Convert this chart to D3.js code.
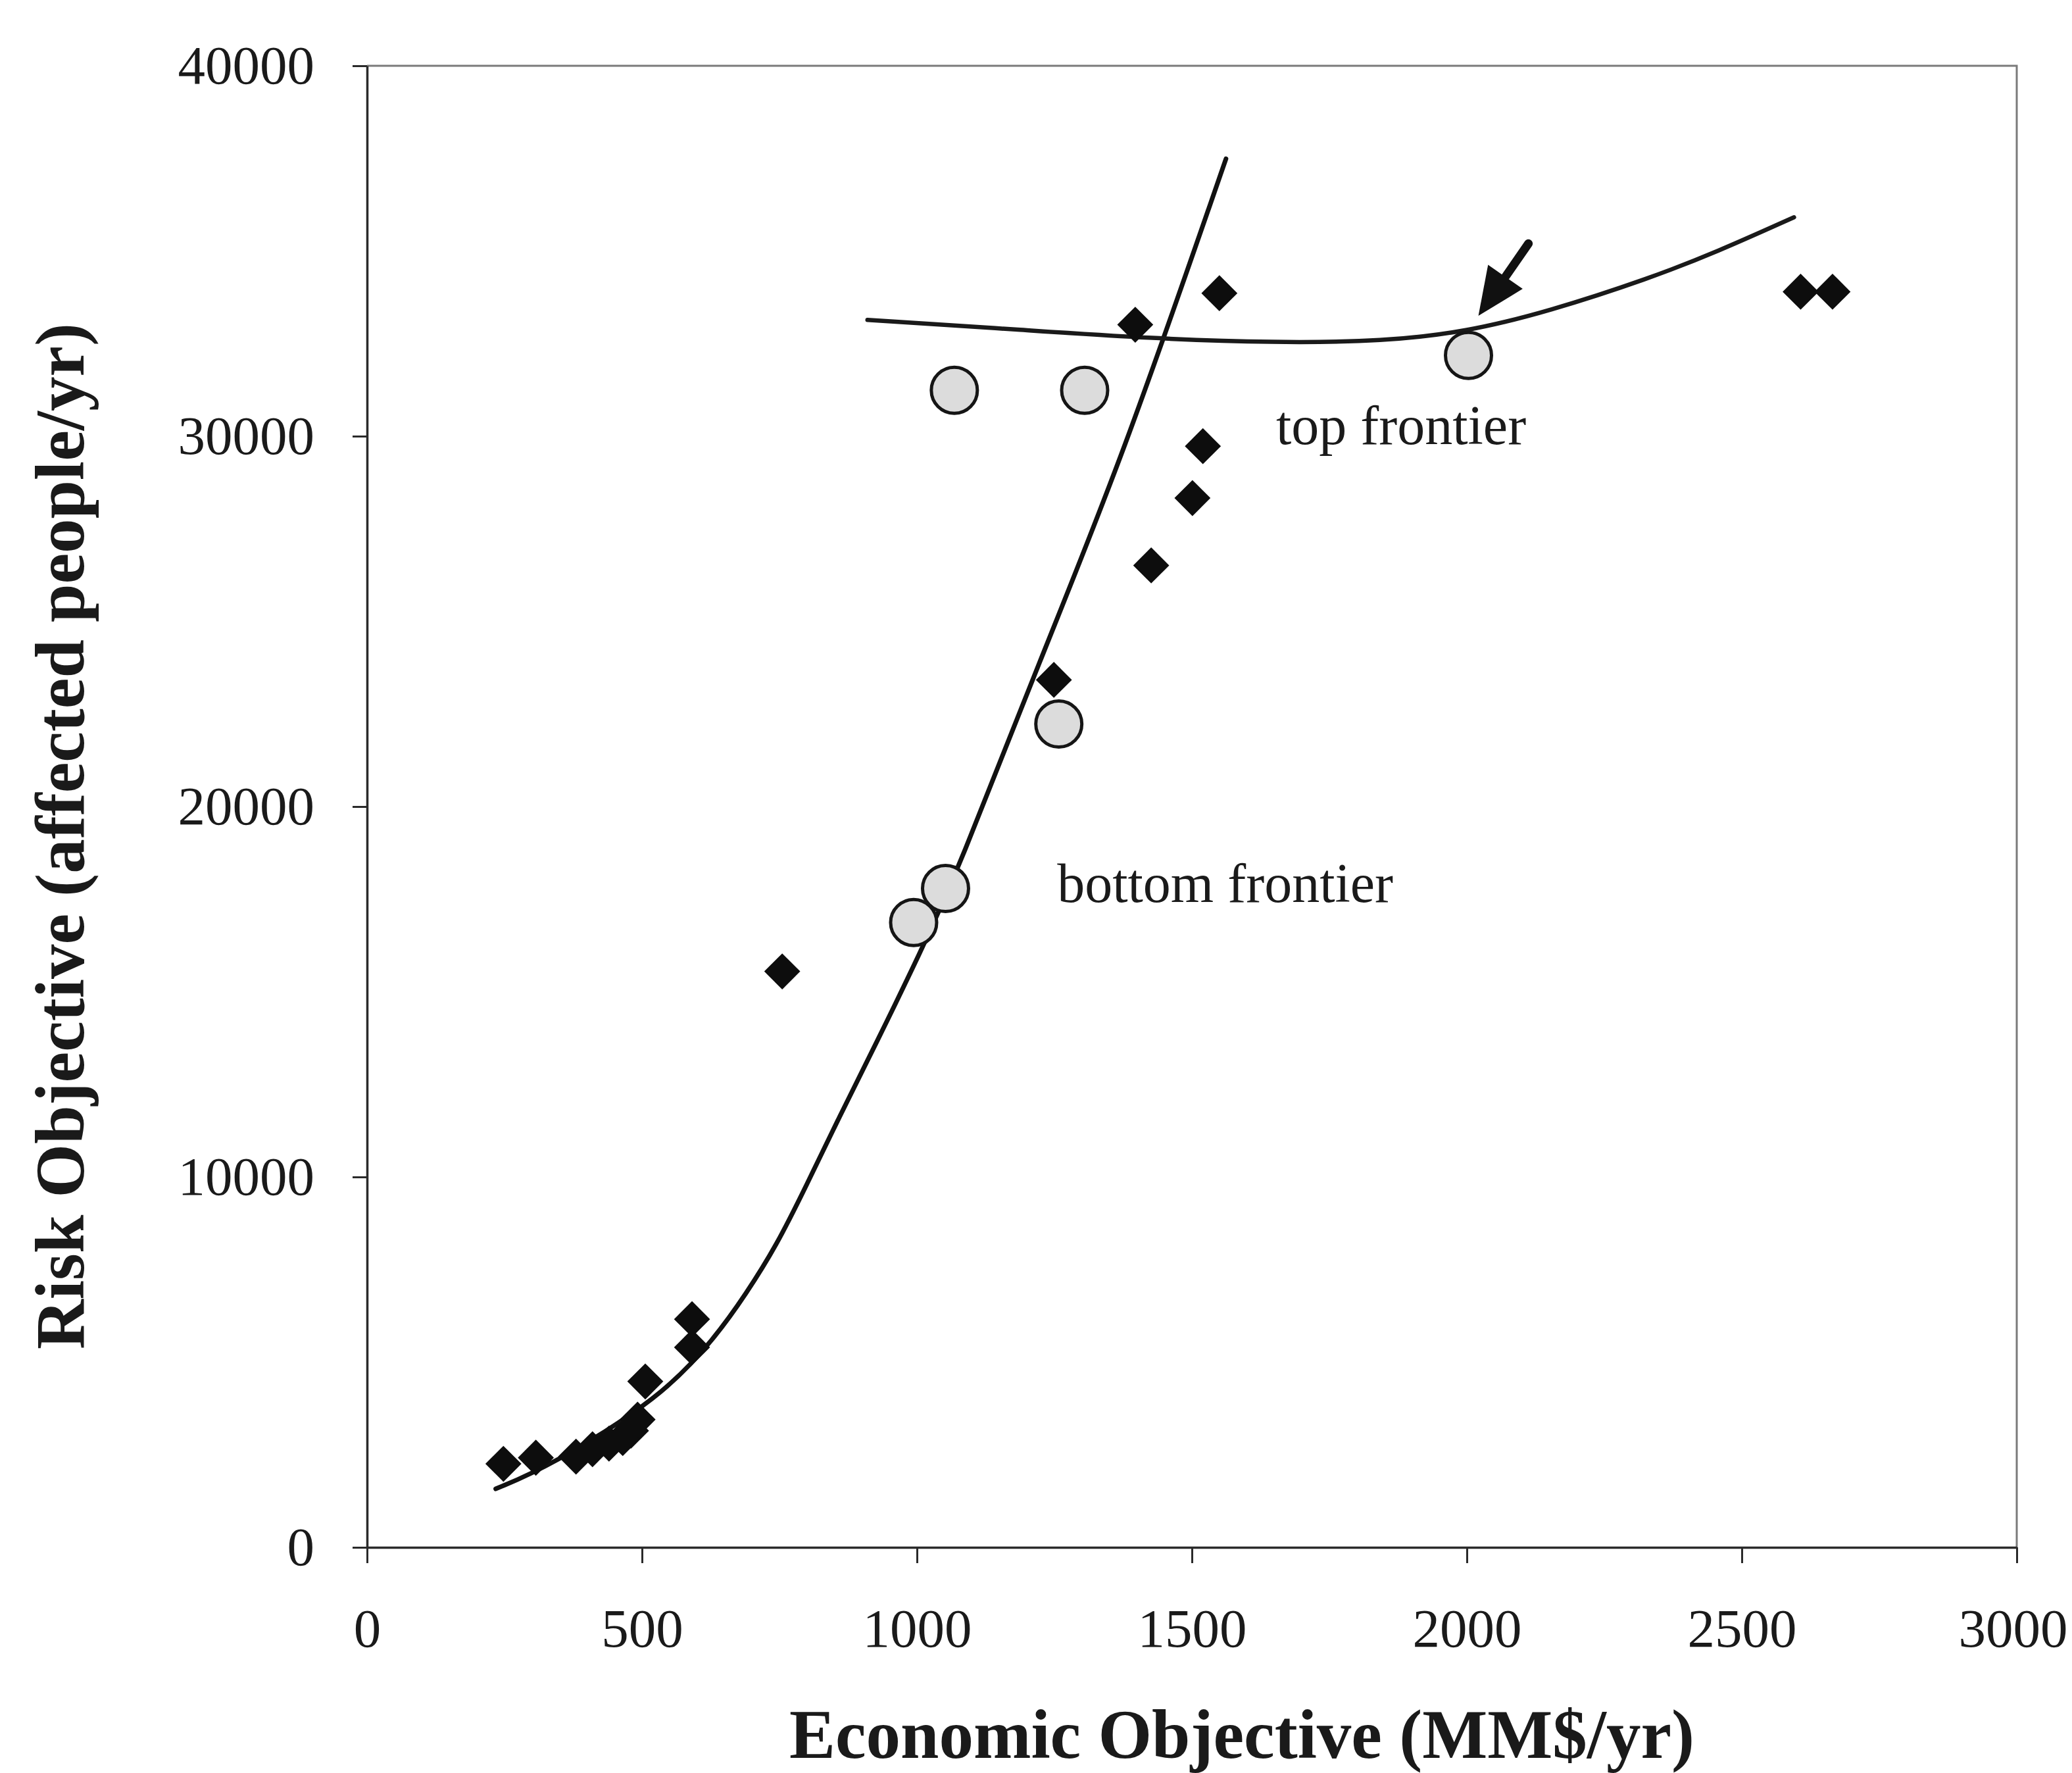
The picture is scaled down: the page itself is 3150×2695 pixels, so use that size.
<!DOCTYPE html>
<html>
<head>
<meta charset="utf-8">
<script src="https://cdn.jsdelivr.net/npm/d3@7"></script>
<style>
  body { margin: 0; background: #fff; }
  text { font-family: "Liberation Serif", "Times New Roman", serif; fill: #1a1a1a; }
</style>
</head>
<body>
<svg id="main-chart-svg" width="3150" height="2695"></svg>
<script>
// solutions found by the search (filled diamonds)
const diamondEcon = [248, 307, 380, 410, 440, 465, 480, 492, 506, 591, 591, 755, 1249, 1397, 1426, 1501, 1520, 1550, 2607, 2665];
const diamondRisk = [2255, 2420, 2450, 2650, 2800, 2950, 3150, 3450, 4480, 5400, 6160, 15550, 23420, 33010, 26510, 28330, 29730, 33860, 33900, 33900];

// highlighted solutions (grey circles)
const circleEcon = [994, 1052, 1258, 1068, 1305, 2003];
const circleRisk = [16870, 17790, 22230, 31240, 31240, 32180];

// frontier curves
const bottomFrontierEcon = [234, 330, 536, 634, 689, 744, 799, 858, 927, 1005, 1075, 1222, 1372, 1562];
const bottomFrontierRisk = [1580, 2170, 4050, 5680, 6840, 8130, 9770, 11600, 13640, 16020, 18290, 23900, 29340, 37490];
const topFrontierEcon = [910, 1192, 1421, 1650, 1850, 2000, 2149, 2332, 2454, 2595];
const topFrontierRisk = [33140, 32870, 32640, 32520, 32560, 32820, 33370, 34260, 34970, 35910];

// arrow pointing at the chosen solution
const arrowEcon = [2112, 2021];
const arrowRisk = [35200, 33250];

const xTicks = [0, 500, 1000, 1500, 2000, 2500, 3000];
const yTicks = [0, 10000, 20000, 30000, 40000];

const xTitle = "Economic Objective (MM$/yr)";
const yTitle = "Risk Objective (affected people/yr)";
const notes = [
    { text: "top frontier", econ: 1653, risk: 29780 },
    { text: "bottom frontier", econ: 1255, risk: 17420 }
];

class Chart {

    constructor() {
        this.svg = d3.select("#main-chart-svg");
        this.xScale = d3.scaleLinear().domain([0, 3000]).range([558, 3066]);
        this.yScale = d3.scaleLinear().domain([0, 40000]).range([2352, 100]);
    }

    createChart()
    {
        let svg = this.svg;
        let x = this.xScale;
        let y = this.yScale;

        svg.append("rect").attr("width", 3150).attr("height", 2695).attr("fill", "#fff");

        // light frame on top and right
        svg.append("path")
        .attr("d", `M${x(0)},${y(40000)}H${x(3000)}V${y(0)}`)
        .attr("fill", "none")
        .attr("stroke", "#7a7a7a")
        .attr("stroke-width", 3);

        let xAxis = d3.axisBottom(x).tickValues(xTicks).tickFormat(d3.format("d")).tickSize(24).tickSizeOuter(0);
        let yAxis = d3.axisLeft(y).tickValues(yTicks).tickFormat(d3.format("d")).tickSize(22).tickSizeOuter(0);

        let gx = svg.append("g")
        .attr("id", "xAxis")
        .attr("transform", `translate(0,${y(0)})`)
        .call(xAxis);

        let gy = svg.append("g")
        .attr("id", "yAxis")
        .attr("transform", `translate(${x(0)},0)`)
        .call(yAxis);

        [gx, gy].forEach(g => {
            g.select(".domain").attr("stroke", "#2a2a2a").attr("stroke-width", 3.5);
            g.selectAll(".tick line").attr("stroke", "#2a2a2a").attr("stroke-width", 3);
            g.selectAll(".tick text")
            .style("font-family", "'Liberation Serif', serif")
            .attr("font-size", 83)
            .attr("fill", "#1a1a1a");
        });
        gx.selectAll(".tick text").attr("y", 151).attr("dy", 0);
        gx.selectAll(".tick text").filter(d => d === 3000).attr("dx", -6);
        gy.selectAll(".tick text").attr("x", -80);

        // axis titles
        svg.append("text")
        .attr("x", 1888)
        .attr("y", 2672)
        .attr("text-anchor", "middle")
        .attr("font-size", 105)
        .attr("font-weight", "bold")
        .text(xTitle);

        svg.append("text")
        .attr("transform", "translate(127,1271) rotate(-90)")
        .attr("text-anchor", "middle")
        .attr("font-size", 105)
        .attr("font-weight", "bold")
        .text(yTitle);

        // frontier curves
        let line = d3.line()
        .x(d => x(d[0]))
        .y(d => y(d[1]))
        .curve(d3.curveBasis);

        svg.append("path")
        .attr("d", line(d3.zip(bottomFrontierEcon, bottomFrontierRisk)))
        .attr("fill", "none")
        .attr("stroke", "#111")
        .attr("stroke-width", 7)
        .attr("stroke-linecap", "round");

        svg.append("path")
        .attr("d", line(d3.zip(topFrontierEcon, topFrontierRisk)))
        .attr("fill", "none")
        .attr("stroke", "#1a1a1a")
        .attr("stroke-width", 6.5)
        .attr("stroke-linecap", "round");

        // diamonds
        let diamond = d3.symbol().type(d3.symbolSquare).size(1500);
        svg.append("g")
        .selectAll("path")
        .data(d3.zip(diamondEcon, diamondRisk))
        .join("path")
        .attr("d", diamond)
        .attr("transform", d => `translate(${x(d[0])},${y(d[1])}) rotate(45)`)
        .attr("fill", "#0d0d0d");

        // circles
        svg.append("g")
        .selectAll("circle")
        .data(d3.zip(circleEcon, circleRisk))
        .join("circle")
        .attr("cx", d => x(d[0]))
        .attr("cy", d => y(d[1]))
        .attr("r", 35)
        .attr("fill", "#dcdcdc")
        .attr("stroke", "#151515")
        .attr("stroke-width", 5);

        // arrow
        let x0 = x(arrowEcon[0]), y0 = y(arrowRisk[0]);
        let x1 = x(arrowEcon[1]), y1 = y(arrowRisk[1]);
        let ang = Math.atan2(y1 - y0, x1 - x0);
        let headLen = 72, headHalf = 32;
        let bx = x1 - headLen * Math.cos(ang), by = y1 - headLen * Math.sin(ang);
        svg.append("line")
        .attr("x1", x0).attr("y1", y0)
        .attr("x2", bx).attr("y2", by)
        .attr("stroke", "#111")
        .attr("stroke-width", 13)
        .attr("stroke-linecap", "round");
        svg.append("path")
        .attr("d", `M${x1},${y1}L${bx + headHalf * Math.sin(ang)},${by - headHalf * Math.cos(ang)}L${bx - headHalf * Math.sin(ang)},${by + headHalf * Math.cos(ang)}Z`)
        .attr("fill", "#111");

        // curve labels
        svg.append("g")
        .selectAll("text")
        .data(notes)
        .join("text")
        .attr("x", d => x(d.econ))
        .attr("y", d => y(d.risk))
        .attr("font-size", 84)
        .text(d => d.text);
    }
}

let chart = new Chart();
chart.createChart();
</script>
</body>
</html>
